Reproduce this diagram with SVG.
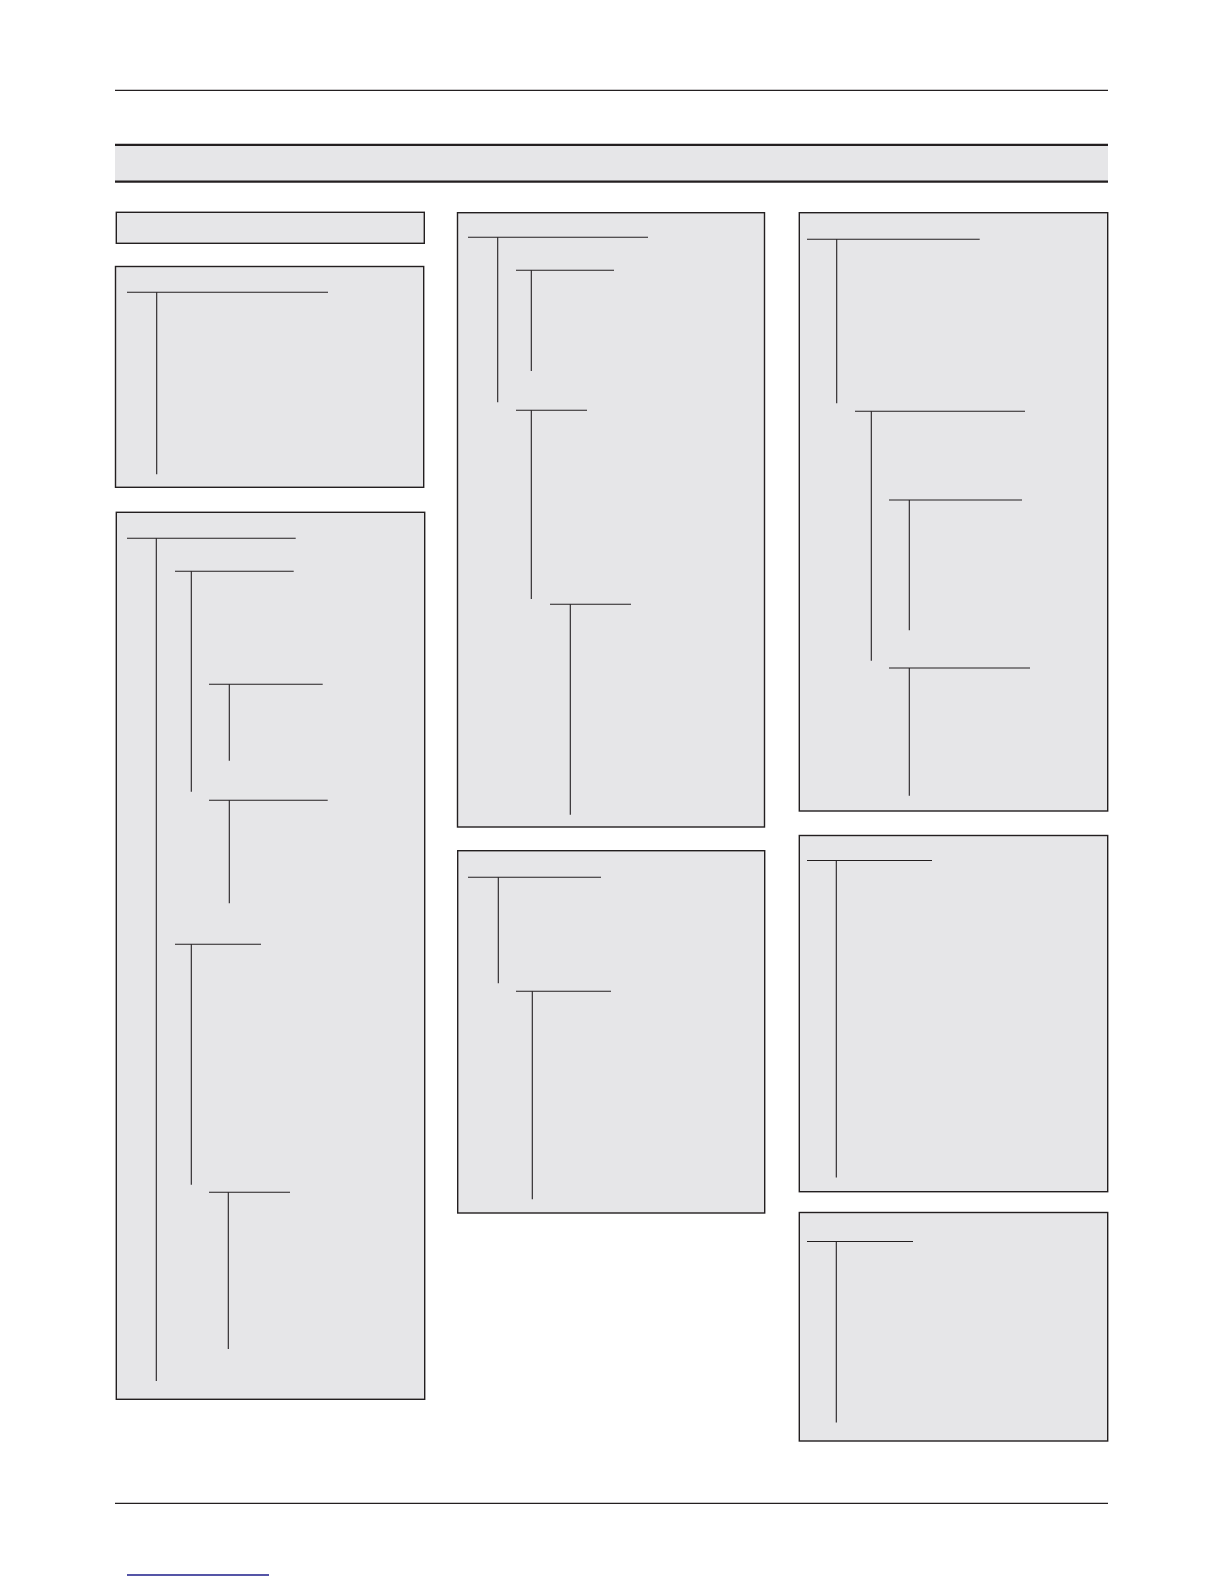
<svg xmlns="http://www.w3.org/2000/svg" width="1224" height="1584" viewBox="0 0 1224 1584">
<style>
.box{fill:#e6e6e8;stroke:#231f20;stroke-width:1.4}
.rule{stroke:#231f20;stroke-width:1.3;fill:none}
.band{stroke:#231f20;stroke-width:2.2;fill:none}
.tree line{stroke:#231f20;stroke-width:1.1;fill:none}
</style>
<rect width="1224" height="1584" fill="#ffffff"/>
<g id="page-rules">
<line class="rule" x1="115" y1="90.3" x2="1108" y2="90.3"/>
<rect x="115" y="145" width="993" height="36.5" fill="#e6e6e8"/>
<line class="band" x1="115" y1="144.8" x2="1108" y2="144.8"/>
<line class="band" x1="115" y1="181.6" x2="1108" y2="181.6"/>
<line class="rule" x1="115" y1="1503.3" x2="1108" y2="1503.3"/>
<line x1="127" y1="1575" x2="269" y2="1575" stroke="#1c1c8a" stroke-width="1.3"/>
</g>
<g id="left-title"><rect class="box" x="116.3" y="212.3" width="308" height="31"/></g>
<g id="left-box-1"><rect class="box" x="115.5" y="266.5" width="308.2" height="220.8"/></g>
<g id="left-box-2"><rect class="box" x="116.3" y="512.3" width="308.4" height="887"/></g>
<g id="mid-box-1"><rect class="box" x="457.5" y="212.7" width="307" height="614.3"/></g>
<g id="mid-box-2"><rect class="box" x="457.7" y="850.7" width="307" height="362.3"/></g>
<g id="right-box-1"><rect class="box" x="799.3" y="212.7" width="308.4" height="598.3"/></g>
<g id="right-box-2"><rect class="box" x="799.3" y="835.5" width="308.4" height="356.2"/></g>
<g id="right-box-3"><rect class="box" x="799.3" y="1212.5" width="308.4" height="228.5"/></g>
<g id="connectors" class="tree">
<!-- left box 1 -->
<line x1="127" y1="292.3" x2="328" y2="292.3"/>
<line x1="156.7" y1="292.3" x2="156.7" y2="474.3"/>
<!-- left box 2 -->
<line x1="127" y1="538.3" x2="295.7" y2="538.3"/>
<line x1="156.3" y1="538.3" x2="156.3" y2="1381"/>
<line x1="175" y1="571.3" x2="293.7" y2="571.3"/>
<line x1="191.3" y1="571.3" x2="191.3" y2="791.7"/>
<line x1="209" y1="684.3" x2="322.7" y2="684.3"/>
<line x1="229.3" y1="684.3" x2="229.3" y2="760.7"/>
<line x1="209" y1="800.3" x2="327.7" y2="800.3"/>
<line x1="229.3" y1="800.3" x2="229.3" y2="903.3"/>
<line x1="175" y1="944.3" x2="261" y2="944.3"/>
<line x1="191.3" y1="944.3" x2="191.3" y2="1184.7"/>
<line x1="209" y1="1192.3" x2="290" y2="1192.3"/>
<line x1="228.3" y1="1192.3" x2="228.3" y2="1349"/>
<!-- mid box 1 -->
<line x1="468" y1="237.3" x2="648" y2="237.3"/>
<line x1="497.7" y1="237.3" x2="497.7" y2="402.3"/>
<line x1="516" y1="270.3" x2="614" y2="270.3"/>
<line x1="531.3" y1="270.3" x2="531.3" y2="371"/>
<line x1="516" y1="410.3" x2="587" y2="410.3"/>
<line x1="531.3" y1="410.3" x2="531.3" y2="599"/>
<line x1="550" y1="604.3" x2="631" y2="604.3"/>
<line x1="570.3" y1="604.3" x2="570.3" y2="814.7"/>
<!-- mid box 2 -->
<line x1="468" y1="877.3" x2="601" y2="877.3"/>
<line x1="498.3" y1="877.3" x2="498.3" y2="983.3"/>
<line x1="516" y1="991.3" x2="611" y2="991.3"/>
<line x1="532.3" y1="991.3" x2="532.3" y2="1199.3"/>
<!-- right box 1 -->
<line x1="807" y1="239.3" x2="979.7" y2="239.3"/>
<line x1="836.7" y1="239.3" x2="836.7" y2="403.3"/>
<line x1="855" y1="411.3" x2="1025" y2="411.3"/>
<line x1="871.3" y1="411.3" x2="871.3" y2="660.7"/>
<line x1="889" y1="500" x2="1022" y2="500"/>
<line x1="909.3" y1="500" x2="909.3" y2="630.3"/>
<line x1="889" y1="668" x2="1030" y2="668"/>
<line x1="909.3" y1="668" x2="909.3" y2="795.7"/>
<!-- right box 2 -->
<line x1="807" y1="860.5" x2="932" y2="860.5"/>
<line x1="836.3" y1="860.5" x2="836.3" y2="1177.5"/>
<!-- right box 3 -->
<line x1="807" y1="1241.5" x2="913" y2="1241.5"/>
<line x1="836.3" y1="1241.5" x2="836.3" y2="1422.5"/>
</g>
</svg>
